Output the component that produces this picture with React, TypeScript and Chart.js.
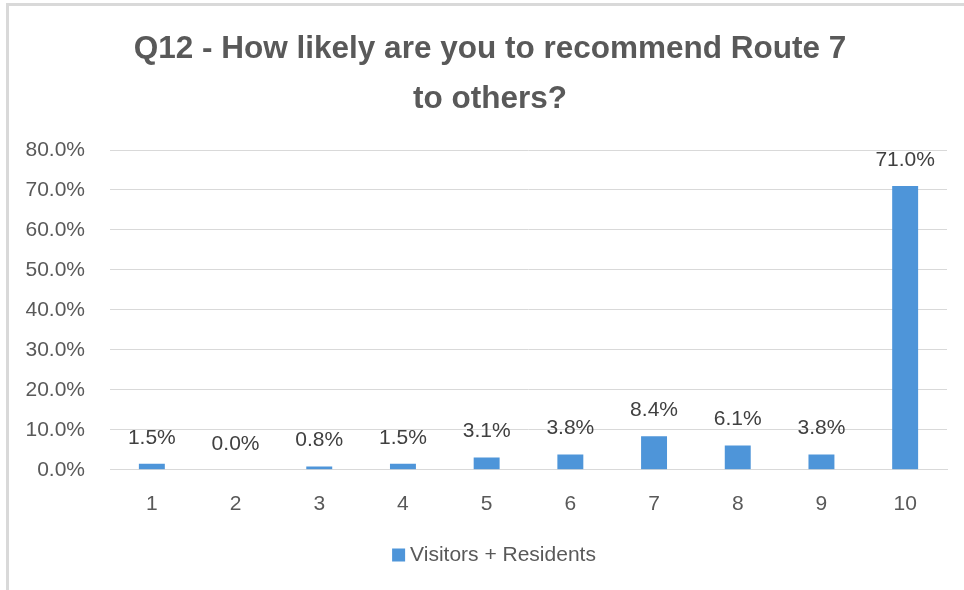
import React, { useEffect, useRef } from "react";
import { Chart, registerables } from "chart.js";

Chart.register(...registerables);

const categories = ["1", "2", "3", "4", "5", "6", "7", "8", "9", "10"];
const seriesName = "Visitors + Residents";
const values = [1.5, 0.0, 0.8, 1.5, 3.1, 3.8, 8.4, 6.1, 3.8, 71.0];
const titleLines = ["Q12 - How likely are you to recommend Route 7", "to others?"];

const FONT = "'Liberation Sans', Arial, sans-serif";
const BAR_COLOR = "#4E95D9";

const dataLabelPlugin = {
  id: "dataLabels",
  afterDatasetsDraw(chart: any) {
    const ctx = chart.ctx;
    const meta = chart.getDatasetMeta(0);
    const ds = chart.data.datasets[0];
    ctx.save();
    ctx.font = `21px ${FONT}`;
    ctx.fillStyle = "#404040";
    ctx.textAlign = "center";
    ctx.textBaseline = "middle";
    meta.data.forEach((bar: any, i: number) => {
      const v = ds.data[i] as number;
      ctx.fillText(v.toFixed(1) + "%", bar.x, bar.y - 26);
    });
    ctx.restore();
  },
};

// Title and legend drawn as canvas text, placed to match the reference box
const titleLegendPlugin = {
  id: "titleLegend",
  afterDraw(chart: any) {
    const ctx = chart.ctx;
    ctx.save();
    ctx.fillStyle = "#595959";
    ctx.textAlign = "center";
    ctx.textBaseline = "middle";
    ctx.font = `bold 31.5px ${FONT}`;
    titleLines.forEach((line, i) => ctx.fillText(line, 481, 43 + i * 50));

    const label = chart.data.datasets[0].label as string;
    ctx.font = `21px ${FONT}`;
    const tw = ctx.measureText(label).width;
    const box = 13;
    const gap = 5;
    const total = box + gap + tw;
    const x0 = 485 - total / 2;
    const cy = 549;
    ctx.fillStyle = chart.data.datasets[0].backgroundColor;
    ctx.fillRect(x0, cy - box / 2, box, box);
    ctx.fillStyle = "#595959";
    ctx.textAlign = "left";
    ctx.fillText(label, x0 + box + gap, cy);
    ctx.restore();
  },
};

export default function App() {
  const ref = useRef<HTMLCanvasElement>(null);
  useEffect(() => {
    if (!ref.current) return;
    const chart = new Chart(ref.current, {
      type: "bar",
      data: {
        labels: categories,
        datasets: [
          {
            label: seriesName,
            data: values,
            backgroundColor: BAR_COLOR,
            barPercentage: 0.31,
            categoryPercentage: 1,
          },
        ],
      },
      options: {
        animation: false,
        responsive: false,
        maintainAspectRatio: false,
        layout: { padding: { left: 0, right: 17, top: 144, bottom: 51 } },
        plugins: {
          title: { display: false },
          legend: { display: false },
          tooltip: { enabled: false },
        },
        scales: {
          x: {
            grid: { display: false, drawTicks: false },
            border: { display: true, color: "#d9d9d9", width: 1 },
            ticks: { color: "#595959", font: { family: FONT, size: 21 }, padding: 22 },
          },
          y: {
            min: 0,
            max: 80,
            ticks: {
              stepSize: 10,
              color: "#595959",
              font: { family: FONT, size: 21 },
              padding: 25,
              callback: (v: any) => Number(v).toFixed(1) + "%",
            },
            grid: { color: "#d9d9d9", lineWidth: 1, drawTicks: false },
            border: { display: false },
            afterFit: (s: any) => {
              s.width = 101;
            },
          },
        },
      },
      plugins: [dataLabelPlugin, titleLegendPlugin],
    });
    return () => chart.destroy();
  }, []);

  return (
    <div
      style={{
        position: "absolute",
        left: 0,
        top: 0,
        width: 964,
        height: 590,
        background: "#fff",
      }}
    >
      <div
        style={{
          position: "absolute",
          left: 6,
          top: 3,
          width: 958,
          height: 587,
          borderTop: "3px solid #d9d9d9",
          borderLeft: "3px solid #d9d9d9",
        }}
      />
      <canvas
        ref={ref}
        width={955}
        height={584}
        style={{ position: "absolute", left: 9, top: 6, width: 955, height: 584 }}
      />
    </div>
  );
}
